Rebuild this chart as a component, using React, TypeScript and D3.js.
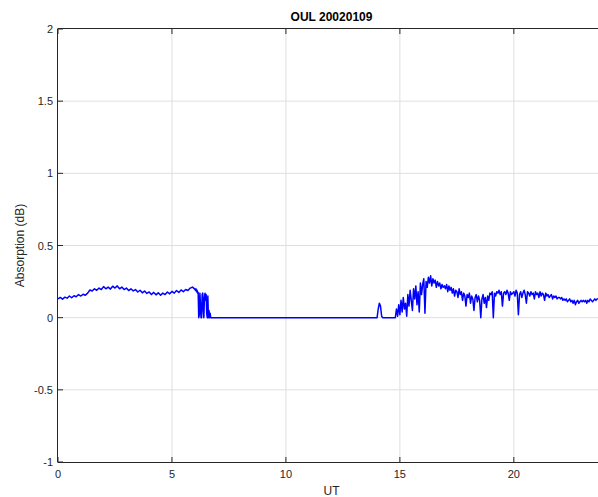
import React, { useEffect, useRef } from "react";
import * as d3 from "d3";

// riometer absorption, OUL 2002-01-09
const xTicks = [0, 5, 10, 15, 20];
const yTicks = [-1, -0.5, 0, 0.5, 1, 1.5, 2];

// 00:00 - 06:00 UT, every 0.1 h
const morningStart = 0;
const morningStep = 0.1;
const morning = [
  0.13, 0.14, 0.128, 0.142, 0.135, 0.15, 0.138, 0.152, 0.145, 0.16,
  0.15, 0.162, 0.155, 0.17, 0.192, 0.185, 0.2, 0.19, 0.205, 0.195,
  0.215, 0.2, 0.212, 0.198, 0.218, 0.205, 0.22, 0.2, 0.212, 0.195,
  0.205, 0.188, 0.2, 0.185, 0.195, 0.178, 0.19, 0.172, 0.185, 0.168,
  0.178, 0.16, 0.175, 0.158, 0.172, 0.155, 0.17, 0.16, 0.178, 0.165,
  0.182, 0.17, 0.188, 0.175, 0.192, 0.18, 0.195, 0.188, 0.205, 0.212,
  0.198,
];

// dropout around 06:10 - 06:45, every 0.025 h
const dropoutStart = 6.025;
const dropoutStep = 0.025;
const dropout = [
  0.19, 0.2, 0.18, 0.19, 0.17, 0.175, 0.0, 0.02, 0.17, 0.1,
  0.0, 0.0, 0.16, 0.17, 0.05, 0.0, 0.14, 0.17, 0.12, 0.16,
  0.03, 0.0, 0.15, 0.0, 0.05, 0.0, 0.03, 0.0,
];

// flat zero + small bump near 14 UT
const gapTimes = [6.725, 14.0, 14.05, 14.1, 14.15, 14.2, 14.25, 14.8];
const gapValues = [0, 0, 0.06, 0.1, 0.08, 0.01, 0, 0];

// 14:50 - 23:42 UT, every 0.05 h
const eveningStart = 14.85;
const eveningStep = 0.05;
const evening = [
  0.06, 0.01, 0.09,
  0.02, 0.12, 0.04, 0.14, 0.06, 0.1, 0.01, 0.16, 0.08, 0.19, 0.12, 0.05, 0.2, 0.13, 0.22, 0.09, 0.18, 0.04, 0.24, 0.16,
  0.23, 0.27, 0.03, 0.25, 0.21, 0.28, 0.24, 0.29, 0.22, 0.27, 0.24, 0.26, 0.21, 0.25, 0.22, 0.24, 0.2, 0.23, 0.21, 0.22,
  0.2, 0.23, 0.18, 0.22, 0.19, 0.21, 0.17, 0.2, 0.15, 0.19, 0.18, 0.14, 0.2, 0.16, 0.18, 0.12, 0.17, 0.15, 0.08, 0.16,
  0.14, 0.17, 0.1, 0.15, 0.13, 0.05, 0.14, 0.16, 0.11, 0.15, 0.12, 0.0, 0.13, 0.16, 0.1, 0.14, 0.07, 0.15, 0.12, 0.17,
  0.16, 0.18, 0.0, 0.17, 0.15, 0.18, 0.17, 0.19, 0.16, 0.18, 0.08, 0.17, 0.18, 0.16, 0.19, 0.17, 0.12, 0.18, 0.16, 0.17,
  0.18, 0.15, 0.19, 0.17, 0.02, 0.16, 0.18, 0.14, 0.17, 0.19, 0.16, 0.1, 0.18, 0.17, 0.15, 0.18, 0.16, 0.17, 0.13, 0.18,
  0.16, 0.17, 0.14, 0.18, 0.15, 0.17, 0.16, 0.12, 0.17, 0.15, 0.16, 0.14, 0.15, 0.16, 0.13, 0.15, 0.14, 0.15, 0.13, 0.14,
  0.14, 0.13, 0.14, 0.12, 0.13, 0.12, 0.13, 0.11, 0.12, 0.13, 0.11, 0.12, 0.1, 0.12, 0.09, 0.11, 0.12, 0.1, 0.11, 0.12,
  0.11, 0.12, 0.11, 0.12, 0.1, 0.12, 0.11, 0.13, 0.12, 0.11, 0.12, 0.13, 0.12, 0.13, 0.13,
];

const W = 598;
const H = 497;
const margin = { top: 29, right: -7, bottom: 35, left: 58 };
const font = "Helvetica, Arial, 'Liberation Sans', sans-serif";
const axisColor = "#262626";

function buildSeries() {
  const pts: [number, number][] = [];
  morning.forEach((v, i) => pts.push([morningStart + i * morningStep, v]));
  dropout.forEach((v, i) => pts.push([dropoutStart + i * dropoutStep, v]));
  gapTimes.forEach((t, i) => pts.push([t, gapValues[i]]));
  evening.forEach((v, i) => pts.push([eveningStart + i * eveningStep, v]));
  return pts;
}

export default function App() {
  const ref = useRef<SVGSVGElement>(null);

  useEffect(() => {
    const svg = d3.select(ref.current);
    svg.selectAll("*").remove();

    const x = d3.scaleLinear().domain([0, 24]).range([margin.left, W - margin.right]);
    const y = d3.scaleLinear().domain([-1, 2]).range([H - margin.bottom, margin.top]);
    const x0 = margin.left;
    const x1 = W - margin.right;
    const y0 = H - margin.bottom;
    const y1 = margin.top;

    svg.append("rect").attr("x", x0).attr("y", y1).attr("width", x1 - x0).attr("height", y0 - y1).attr("fill", "#fff");

    // grid
    svg
      .selectAll("vgrid")
      .data(xTicks.filter((d) => d > 0))
      .join("line")
      .attr("x1", (d) => x(d))
      .attr("x2", (d) => x(d))
      .attr("y1", y0)
      .attr("y2", y1)
      .attr("stroke", "#dfdfdf")
      .attr("stroke-width", 1);
    svg
      .selectAll("hgrid")
      .data(yTicks.filter((d) => d > -1 && d < 2))
      .join("line")
      .attr("x1", x0)
      .attr("x2", x1)
      .attr("y1", (d) => y(d))
      .attr("y2", (d) => y(d))
      .attr("stroke", "#dfdfdf")
      .attr("stroke-width", 1);

    // data line
    const line = d3
      .line<[number, number]>()
      .x((d) => x(d[0]))
      .y((d) => y(d[1]));
    svg
      .append("path")
      .datum(buildSeries())
      .attr("d", line)
      .attr("fill", "none")
      .attr("stroke", "#0000ff")
      .attr("stroke-width", 1.5)
      .attr("stroke-linejoin", "round");

    // axes frame
    svg.append("line").attr("x1", x0).attr("x2", x1).attr("y1", y0 + 0.5).attr("y2", y0 + 0.5).attr("stroke", axisColor);
    svg.append("line").attr("x1", x0).attr("x2", x1).attr("y1", y1 - 0.5).attr("y2", y1 - 0.5).attr("stroke", axisColor);
    svg.append("line").attr("x1", x0 - 0.5).attr("x2", x0 - 0.5).attr("y1", y0 + 0.5).attr("y2", y1 - 0.5).attr("stroke", axisColor);

    // ticks (inward)
    xTicks.forEach((t) => {
      svg.append("line").attr("x1", x(t)).attr("x2", x(t)).attr("y1", y0).attr("y2", y0 - 5).attr("stroke", axisColor);
      svg.append("line").attr("x1", x(t)).attr("x2", x(t)).attr("y1", y1).attr("y2", y1 + 5).attr("stroke", axisColor);
    });
    yTicks.forEach((t) => {
      svg.append("line").attr("x1", x0).attr("x2", x0 + 5).attr("y1", y(t)).attr("y2", y(t)).attr("stroke", axisColor);
    });

    // tick labels
    svg
      .selectAll("xlab")
      .data(xTicks)
      .join("text")
      .attr("x", (d) => x(d))
      .attr("y", y0 + 16)
      .attr("text-anchor", "middle")
      .style("font-family", font)
      .style("font-size", "11px")
      .attr("fill", axisColor)
      .text((d) => String(d));
    svg
      .selectAll("ylab")
      .data(yTicks)
      .join("text")
      .attr("x", x0 - 5)
      .attr("y", (d) => y(d) + 4)
      .attr("text-anchor", "end")
      .style("font-family", font)
      .style("font-size", "11px")
      .attr("fill", axisColor)
      .text((d) => String(d));

    // titles
    svg
      .append("text")
      .attr("x", (x0 + x1) / 2)
      .attr("y", 21)
      .attr("text-anchor", "middle")
      .style("font-family", font)
      .style("font-size", "12px")
      .style("font-weight", "bold")
      .attr("fill", "#000")
      .text("OUL 20020109");
    svg
      .append("text")
      .attr("x", (x0 + x1) / 2)
      .attr("y", y0 + 33)
      .attr("text-anchor", "middle")
      .style("font-family", font)
      .style("font-size", "12px")
      .attr("fill", axisColor)
      .text("UT");
    svg
      .append("text")
      .attr("transform", `translate(24,${(y0 + y1) / 2}) rotate(-90)`)
      .attr("text-anchor", "middle")
      .style("font-family", font)
      .style("font-size", "12px")
      .attr("fill", axisColor)
      .text("Absorption (dB)");
  }, []);

  return (
    <div style={{ position: "absolute", left: 0, top: 0, width: W, height: H, overflow: "hidden", background: "#fff" }}>
      <svg ref={ref} width={W} height={H} viewBox={`0 0 ${W} ${H}`}></svg>
    </div>
  );
}
